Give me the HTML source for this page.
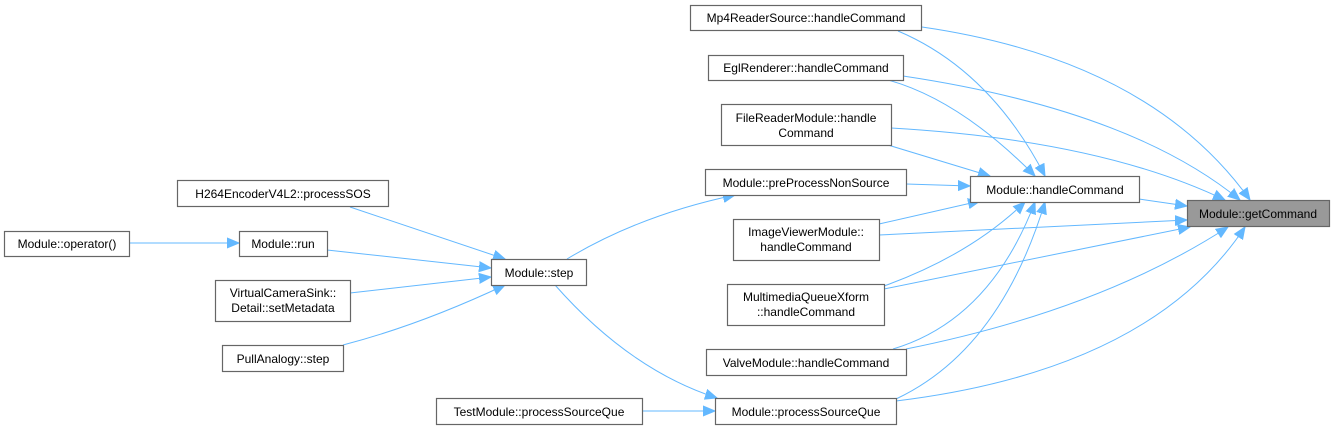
<!DOCTYPE html>
<html><head><meta charset="utf-8"><style>
html,body{margin:0;padding:0;background:#fff;}
svg{display:block;}
text{font-family:"Liberation Sans",Arial,sans-serif;font-size:12px;fill:#000;}
.n{fill:#fff;stroke:#666;stroke-width:1.2;}
.e{fill:none;stroke:#63b8ff;stroke-width:1;}
</style></head><body>
<svg width="1336" height="430" viewBox="0 0 1336 430" xmlns="http://www.w3.org/2000/svg">
<defs>
<marker id="a" markerUnits="userSpaceOnUse" markerWidth="14" markerHeight="12" refX="12" refY="6" orient="auto">
<path d="M0,1 L12,6 L0,11 Z" fill="#63b8ff" stroke="#63b8ff"/>
</marker>
</defs>
<g class="edges">
<path class="e" marker-end="url(#a)" d="M129,243 L239,243"/>
<path class="e" marker-end="url(#a)" d="M327,250 L491,268"/>
<path class="e" marker-end="url(#a)" d="M350,207 L505,259"/>
<path class="e" marker-end="url(#a)" d="M350,293 L491,277"/>
<path class="e" marker-end="url(#a)" d="M343,345 Q420,325 505,285"/>
<path class="e" marker-end="url(#a)" d="M567,259 Q640,215 735,195"/>
<path class="e" marker-end="url(#a)" d="M555,285 Q630,370 717,398"/>
<path class="e" marker-end="url(#a)" d="M642,411 L715,411"/>
<path class="e" marker-end="url(#a)" d="M906,184 L970,186"/>
<path class="e" marker-end="url(#a)" d="M898,31 Q990,70 1045,176"/>
<path class="e" marker-end="url(#a)" d="M888,80 Q960,100 1035,176"/>
<path class="e" marker-end="url(#a)" d="M888,145 L990,176"/>
<path class="e" marker-end="url(#a)" d="M879,224 L980,201"/>
<path class="e" marker-end="url(#a)" d="M884,286 Q970,255 1025,202"/>
<path class="e" marker-end="url(#a)" d="M893,349 Q990,320 1035,202"/>
<path class="e" marker-end="url(#a)" d="M896,399 Q1000,350 1045,202"/>
<path class="e" marker-end="url(#a)" d="M1139,199 L1187,206"/>
<path class="e" marker-end="url(#a)" d="M922,27 Q1150,60 1250,200"/>
<path class="e" marker-end="url(#a)" d="M903,76 Q1130,110 1240,200"/>
<path class="e" marker-end="url(#a)" d="M891,128 Q1100,140 1225,200"/>
<path class="e" marker-end="url(#a)" d="M879,235 L1187,220"/>
<path class="e" marker-end="url(#a)" d="M884,289 L1190,227"/>
<path class="e" marker-end="url(#a)" d="M906,349 Q1100,310 1228,227"/>
<path class="e" marker-end="url(#a)" d="M896,401 Q1150,370 1245,227"/>
</g>
<g class="nodes">
<rect x="1187.5" y="200.5" width="142" height="26" fill="#999" stroke="#666" stroke-width="1.2"/>
<text x="1258" y="218" text-anchor="middle">Module::getCommand</text>

<rect class="n" x="690.5" y="5.5" width="231" height="25"/>
<text x="806" y="22" text-anchor="middle">Mp4ReaderSource::handleCommand</text>

<rect class="n" x="708.5" y="55.5" width="195" height="25"/>
<text x="806" y="72" text-anchor="middle">EglRenderer::handleCommand</text>

<rect class="n" x="721.5" y="104.5" width="170" height="41"/>
<text x="806" y="122" text-anchor="middle">FileReaderModule::handle</text>
<text x="806" y="137" text-anchor="middle">Command</text>

<rect class="n" x="705.5" y="169.5" width="201" height="26"/>
<text x="806" y="187" text-anchor="middle">Module::preProcessNonSource</text>

<rect class="n" x="970.5" y="176.5" width="169" height="26"/>
<text x="1055" y="194" text-anchor="middle">Module::handleCommand</text>

<rect class="n" x="733.5" y="219.5" width="146" height="41"/>
<text x="806" y="236" text-anchor="middle">ImageViewerModule::</text>
<text x="806" y="251" text-anchor="middle">handleCommand</text>

<rect class="n" x="727.5" y="284.5" width="157" height="41"/>
<text x="806" y="301" text-anchor="middle">MultimediaQueueXform</text>
<text x="806" y="316" text-anchor="middle">::handleCommand</text>

<rect class="n" x="706.5" y="349.5" width="200" height="26"/>
<text x="806" y="367" text-anchor="middle">ValveModule::handleCommand</text>

<rect class="n" x="715.5" y="398.5" width="181" height="26"/>
<text x="806" y="416" text-anchor="middle">Module::processSourceQue</text>

<rect class="n" x="436.5" y="398.5" width="206" height="26"/>
<text x="539" y="416" text-anchor="middle">TestModule::processSourceQue</text>

<rect class="n" x="491.5" y="259.5" width="95" height="26"/>
<text x="539" y="277" text-anchor="middle">Module::step</text>

<rect class="n" x="177.5" y="180.5" width="211" height="26"/>
<text x="283" y="198" text-anchor="middle">H264EncoderV4L2::processSOS</text>

<rect class="n" x="239.5" y="231.5" width="88" height="25"/>
<text x="283" y="248" text-anchor="middle">Module::run</text>

<rect class="n" x="4.5" y="231.5" width="125" height="25"/>
<text x="67" y="248" text-anchor="middle">Module::operator()</text>

<rect class="n" x="215.5" y="280.5" width="135" height="41"/>
<text x="283" y="297" text-anchor="middle">VirtualCameraSink::</text>
<text x="283" y="312" text-anchor="middle">Detail::setMetadata</text>

<rect class="n" x="222.5" y="345.5" width="121" height="26"/>
<text x="283" y="363" text-anchor="middle">PullAnalogy::step</text>
</g>
</svg>
</body></html>
